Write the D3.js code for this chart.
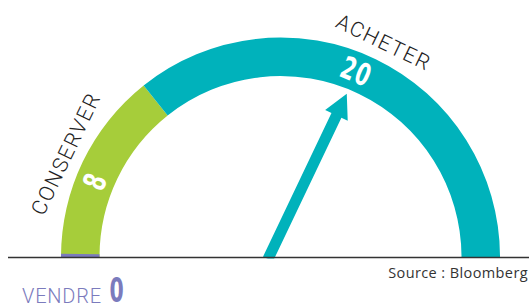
<!DOCTYPE html>
<html>
<head>
<meta charset="utf-8">
<script src="https://cdn.jsdelivr.net/npm/d3@7"></script>
<style>
  html, body { margin: 0; padding: 0; background: #fff; }
  svg { display: block; }
</style>
</head>
<body>
<svg id="chart" width="529" height="308"></svg>
<script>
// données : recommandations des analystes
const categories = ["VENDRE", "CONSERVER", "ACHETER"];
const counts = [0, 8, 20];
const colors = ["#7b7bbd", "#a6cd3a", "#00b2bb"];
const needleValue = 17.4; // position de la flèche sur l'échelle
const source = "Source : Bloomberg";

const svg = d3.select("#chart");
const cx = 280.5, cy = 257;
const rOuter = 219.5, rInner = 181;
const total = d3.sum(counts);

// échelle valeur -> angle (d3.arc : 0 = midi, sens horaire)
const angle = d3.scaleLinear().domain([0, total]).range([-Math.PI / 2, Math.PI / 2]);

const starts = [];
counts.reduce((acc, v) => { starts.push(acc); return acc + v; }, 0);
const segs = categories.map((c, i) => ({ cat: c, value: counts[i], start: starts[i], color: colors[i] }));

const arc = d3.arc().innerRadius(rInner).outerRadius(rOuter);
const g = svg.append("g").attr("transform", `translate(${cx},${cy})`);

// segments non nuls d'abord, puis la fine bande pour la valeur 0
segs.filter(d => d.value > 0).forEach(d => {
  g.append("path")
    .attr("d", arc({ startAngle: angle(d.start), endAngle: angle(d.start + d.value) }))
    .attr("fill", d.color);
});
segs.filter(d => d.value === 0).forEach(d => {
  g.append("path")
    .attr("d", arc({ startAngle: angle(d.start), endAngle: angle(d.start) + 0.015 }))
    .attr("fill", d.color);
});

// flèche
const a = angle(needleValue);
const tipR = 178;
const tip = [cx + tipR * Math.sin(a), cy - tipR * Math.cos(a)];
const base = [cx - 12.5, cy];
const len = Math.hypot(tip[0] - base[0], tip[1] - base[1]);
const rot = Math.atan2(tip[1] - base[1], tip[0] - base[0]) * 180 / Math.PI;
const sw = 5.5, hw = 12.5, hl = 24;
svg.append("path")
  .attr("d", `M0,${-sw} L${len - hl},${-sw} L${len - hl},${-hw} L${len},0 L${len - hl},${hw} L${len - hl},${sw} L0,${sw} Z`)
  .attr("transform", `translate(${base[0]},${base[1] + 2}) rotate(${rot})`)
  .attr("fill", "#00b2bb");

// masque sous la ligne de base, puis la ligne
svg.append("rect").attr("x", 0).attr("y", cy + 1.5).attr("width", 529).attr("height", 60).attr("fill", "#fff");
svg.append("line")
  .attr("x1", 8).attr("x2", 529)
  .attr("y1", cy + 0.5).attr("y2", cy + 0.5)
  .attr("stroke", "#333").attr("stroke-width", 1.6);

// libellés le long de l'arc (sauf VENDRE, placé en bas)
const labelFont = "Roboto, 'Open Sans', sans-serif";
const numFont = "'DejaVu Sans', sans-serif";
segs.filter(d => d.value > 0).forEach(d => {
  const m = angle(d.start + d.value / 2);
  const deg = m * 180 / Math.PI;
  const pos = (r, mm) => [cx + r * Math.sin(mm), cy - r * Math.cos(mm)];
  const [lx, ly] = pos(238, m);
  svg.append("text")
    .attr("transform", `translate(${lx},${ly}) rotate(${deg})`)
    .attr("text-anchor", "middle").attr("dominant-baseline", "central")
    .attr("font-family", labelFont).attr("font-weight", 300)
    .attr("font-size", 21).attr("letter-spacing", 1.6).attr("fill", "#222")
    .text(d.cat);
  const mn = m - 0.06;
  const [nx, ny] = pos(200, mn);
  svg.append("text")
    .attr("transform", `translate(${nx},${ny}) rotate(${mn * 180 / Math.PI}) scale(0.66,1)`)
    .attr("text-anchor", "middle").attr("dominant-baseline", "central")
    .attr("font-family", numFont).attr("font-weight", "bold")
    .attr("font-size", 31).attr("letter-spacing", 2).attr("fill", "#fff")
    .text(d.value);
});

// VENDRE 0
const zero = segs.find(d => d.value === 0);
svg.append("text").attr("x", 22).attr("y", 303)
  .attr("fill", zero.color)
  .attr("font-family", labelFont).attr("font-weight", 300)
  .attr("font-size", 20).attr("letter-spacing", 0.8)
  .text(zero.cat);
svg.append("text")
  .attr("transform", "translate(116.5,302) scale(0.62,1)")
  .attr("text-anchor", "middle")
  .attr("fill", zero.color)
  .attr("font-family", numFont).attr("font-weight", "bold")
  .attr("font-size", 33)
  .text(zero.value);

// source
svg.append("text").attr("x", 528).attr("y", 278)
  .attr("text-anchor", "end")
  .attr("font-family", "'Open Sans', sans-serif").attr("font-size", 14.5)
  .attr("letter-spacing", 0.4)
  .attr("fill", "#333")
  .text(source);
</script>
</body>
</html>
